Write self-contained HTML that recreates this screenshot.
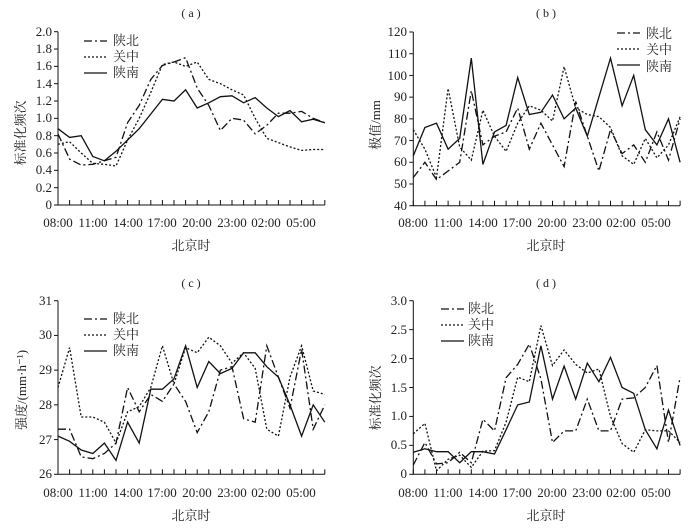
<!DOCTYPE html>
<html><head><meta charset="utf-8"><style>
body{margin:0;background:#fff}
svg{display:block}
text{font-family:"Liberation Serif","Noto Serif CJK SC",serif;fill:#222}
.t{font-size:13px}
.c{font-family:"Liberation Serif","Noto Sans CJK SC",sans-serif;font-size:13px}
</style></head><body>
<svg id="s" width="700" height="531" viewBox="0 0 700 531" xmlns="http://www.w3.org/2000/svg">
<g class="t">
<text x="191" y="17" text-anchor="middle" font-size="12">( a )</text>
<text x="546" y="17" text-anchor="middle" font-size="12">( b )</text>
<text x="191" y="287" text-anchor="middle" font-size="12">( c )</text>
<text x="546" y="287" text-anchor="middle" font-size="12">( d )</text>
</g>
<g class="t" text-anchor="end">
<text x="52" y="209">0</text><text x="52" y="192">0.2</text><text x="52" y="174">0.4</text><text x="52" y="157">0.6</text><text x="52" y="140">0.8</text><text x="52" y="122">1.0</text><text x="52" y="105">1.2</text><text x="52" y="88">1.4</text><text x="52" y="70">1.6</text><text x="52" y="53">1.8</text><text x="52" y="36">2.0</text>
<text x="407" y="210">40</text><text x="407" y="188">50</text><text x="407" y="166">60</text><text x="407" y="145">70</text><text x="407" y="123">80</text><text x="407" y="101">90</text><text x="407" y="80">100</text><text x="407" y="58">110</text><text x="407" y="36">120</text>
<text x="52" y="478">26</text><text x="52" y="444">27</text><text x="52" y="409">28</text><text x="52" y="374">29</text><text x="52" y="339">30</text><text x="52" y="305">31</text>
<text x="407" y="478">0</text><text x="407" y="449">0.5</text><text x="407" y="420">1.0</text><text x="407" y="392">1.5</text><text x="407" y="363">2.0</text><text x="407" y="334">2.5</text><text x="407" y="305">3.0</text>
</g>
<g class="t" text-anchor="middle">
<text x="58" y="227">08:00</text><text x="93" y="227">11:00</text><text x="128" y="227">14:00</text><text x="162" y="227">17:00</text><text x="197" y="227">20:00</text><text x="232" y="227">23:00</text><text x="266" y="227">02:00</text><text x="301" y="227">05:00</text>
<text x="413" y="227">08:00</text><text x="448" y="227">11:00</text><text x="483" y="227">14:00</text><text x="517" y="227">17:00</text><text x="552" y="227">20:00</text><text x="587" y="227">23:00</text><text x="621" y="227">02:00</text><text x="656" y="227">05:00</text>
<text x="58" y="497">08:00</text><text x="93" y="497">11:00</text><text x="128" y="497">14:00</text><text x="162" y="497">17:00</text><text x="197" y="497">20:00</text><text x="232" y="497">23:00</text><text x="266" y="497">02:00</text><text x="301" y="497">05:00</text>
<text x="413" y="497">08:00</text><text x="448" y="497">11:00</text><text x="483" y="497">14:00</text><text x="517" y="497">17:00</text><text x="552" y="497">20:00</text><text x="587" y="497">23:00</text><text x="621" y="497">02:00</text><text x="656" y="497">05:00</text>
</g>
<g class="c" text-anchor="middle">
<text x="191" y="250">北京时</text><text x="546" y="250">北京时</text>
<text x="191" y="520">北京时</text><text x="546" y="520">北京时</text>
<text transform="translate(25,133) rotate(-90)">标准化频次</text>
<text transform="translate(380,125) rotate(-90)">极值/mm</text>
<text transform="translate(26,390) rotate(-90)">强度/(mm·h⁻¹)</text>
<text transform="translate(380,398) rotate(-90)">标准化频次</text>
</g>
<g class="c">
<text x="113" y="45">陕北</text><text x="113" y="61">关中</text><text x="113" y="77">陕南</text>
<text x="646" y="38">陕北</text><text x="646" y="54">关中</text><text x="646" y="71">陕南</text>
<text x="113" y="323">陕北</text><text x="113" y="339">关中</text><text x="113" y="355">陕南</text>
<text x="468" y="313">陕北</text><text x="468" y="329">关中</text><text x="468" y="345">陕南</text>
</g>
<g id="g" fill="none" stroke="#111" stroke-width="1.3"></g>
</svg>
<script>
var g=document.getElementById('g');
function el(a){var e=document.createElementNS('http://www.w3.org/2000/svg',a.t);for(var k in a)if(k!='t')e.setAttribute(k,a[k]);g.appendChild(e);}
var D=['8,3,2,3','2,2',null];
function panel(x0,yb,yt,mn,mx,nt,series,lx,ly){
 var w=23*11.6;
 el({t:'path',d:'M'+x0+' '+yt+'V'+yb+'H'+(x0+w),'stroke-width':1});
 for(var i=0;i<=23;i++)el({t:'line',x1:x0+i*11.6,x2:x0+i*11.6,y1:yb,y2:yb-5,'stroke-width':1});
 for(var j=0;j<=nt;j++){var y=yb-(yb-yt)*j/nt;el({t:'line',x1:x0-4,x2:x0,y1:y,y2:y,'stroke-width':1});}
 series.forEach(function(s,k){
  var p=s.map(function(v,i){return (x0+i*11.6).toFixed(1)+','+(yb-(v-mn)/(mx-mn)*(yb-yt)).toFixed(1)}).join(' ');
  var a={t:'polyline',points:p};if(D[k])a['stroke-dasharray']=D[k];el(a);
  var b={t:'line',x1:lx,x2:lx+23,y1:ly+k*16,y2:ly+k*16};if(D[k])b['stroke-dasharray']=D[k];el(b);
 });
}
panel(58,205,31.7,0,2,10,[
[0.82,0.53,0.46,0.47,0.51,0.55,0.95,1.15,1.45,1.61,1.65,1.70,1.35,1.15,0.86,1.00,0.98,0.82,0.92,1.06,1.06,1.08,1.00,0.95],
[0.70,0.73,0.60,0.48,0.47,0.45,0.75,1.00,1.30,1.62,1.65,1.60,1.65,1.45,1.40,1.33,1.27,1.00,0.77,0.72,0.67,0.63,0.64,0.64],
[0.88,0.78,0.80,0.56,0.51,0.62,0.75,0.88,1.05,1.22,1.20,1.33,1.12,1.18,1.25,1.26,1.18,1.24,1.12,1.02,1.09,0.96,0.99,0.95]],84,41);
panel(413.3,205.7,32,40,120,8,[
[53,60,52,56,60,93,68,72,74,85,66,78,68,58,88,72,56,75,64,68,60,74,61,80],
[75,66,53,94,67,61,84,72,65,78,86,84,79,104,85,82,81,76,63,59,71,62,68,81],
[63,76,78,66,71,108,59,74,77,99,82,83,91,80,85,72,90,108,86,100,75,68,80,60]],617,33);
panel(58,474.3,300.7,26,31,5,[
[27.3,27.3,26.5,26.45,26.6,26.9,28.5,27.8,28.3,28.1,28.6,28.1,27.2,27.8,29.0,29.1,27.6,27.5,29.7,28.8,27.9,29.6,27.3,28.0],
[28.5,29.65,27.65,27.65,27.5,26.9,27.8,27.95,28.5,29.7,28.6,29.65,29.5,29.95,29.7,29.2,29.5,29.05,27.3,27.1,28.8,29.7,28.4,28.3],
[27.1,26.95,26.7,26.6,26.9,26.4,27.5,26.9,28.45,28.45,28.75,29.7,28.5,29.25,28.9,29.05,29.5,29.5,29.1,28.8,28.0,27.1,28.0,27.5]],84,319);
panel(413.3,474.3,300.7,0,3,6,[
[0.16,0.55,0.18,0.20,0.38,0.20,0.95,0.75,1.67,1.90,2.25,1.65,0.55,0.75,0.75,1.30,0.75,0.75,1.30,1.32,1.50,1.88,0.55,1.68],
[0.70,0.88,0.06,0.26,0.33,0.12,0.40,0.41,0.90,1.68,1.60,2.57,1.88,2.15,1.90,1.75,1.82,1.00,0.53,0.38,0.77,0.75,0.75,0.55],
[0.38,0.44,0.39,0.39,0.20,0.39,0.39,0.35,0.77,1.20,1.25,2.22,1.30,1.87,1.30,1.92,1.60,2.02,1.50,1.40,0.77,0.44,1.11,0.50]],441,309);
</script>
</body></html>
